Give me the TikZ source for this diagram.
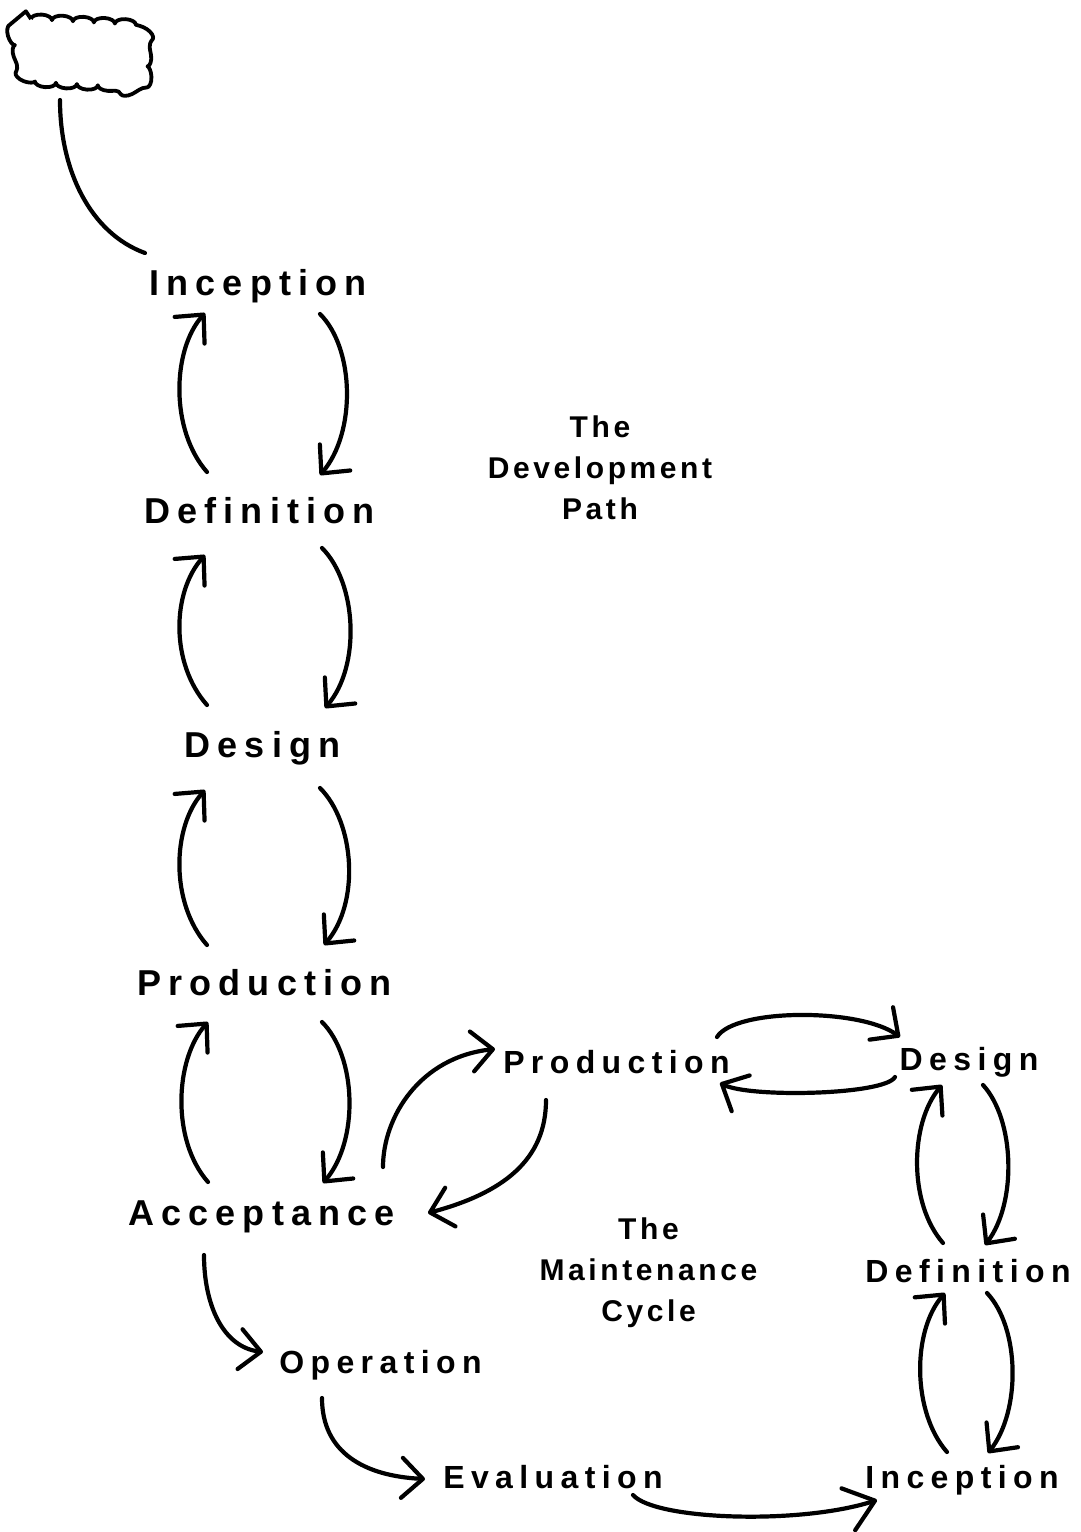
\documentclass[tikz,border=0pt]{standalone}
\usepackage{fontspec}
\setmainfont{Liberation Sans}
\newfontfamily\lab[LetterSpace=20]{Liberation Sans}
\newfontfamily\ttlfont[LetterSpace=12]{Liberation Sans}
\usetikzlibrary{arrows.meta,calc,decorations.pathmorphing}
\tikzset{
  lblL/.style={font=\lab\bfseries\fontsize{36}{40}\selectfont, inner sep=0pt, anchor=base},
  lblR/.style={font=\lab\bfseries\fontsize{32}{36}\selectfont, inner sep=0pt, anchor=base},
  ttl/.style={font=\ttlfont\bfseries\fontsize{30}{41}\selectfont, align=center, inner sep=0pt, anchor=base},
  conn/.style={line width=4.2pt, line cap=round, line join=round},
  arr/.style={conn, -{Straight Barb[length=21pt,width=40pt,round]}},
  arrbig/.style={conn, -{Straight Barb[length=28pt,width=44pt,round]}},
  cloudbox/.style={minimum width=145pt, minimum height=80pt, inner sep=0pt},
  cloudline/.style={line width=3.8pt, line join=round, decorate,
    decoration={bumps, segment length=42pt, amplitude=5pt}},
}
\begin{document}
\begin{tikzpicture}[x=1pt,y=-1pt]
\useasboundingbox[fill=white] (0,0) rectangle (1081,1532);
% development path
\node[lblL] (i1) at (258,295) {Inception};
\node[lblL] (d1) at (259.5,523) {Definition};
\node[lblL] (de1) at (262.5,757) {Design};
\node[lblL] (p1) at (264.5,995) {Production};
\node[lblL] (a1) at (261.5,1225) {Acceptance};
% maintenance
\node[lblR] (o) at (380.5,1373) {Operation};
\node[lblR] (e) at (553,1488) {Evaluation};
\node[lblR] (p2) at (616.5,1073) {Production};
\node[lblR] (de2) at (969,1070) {Design};
\node[lblR] (d2) at (968,1282) {Definition};
\node[lblR] (i2) at (962,1488) {Inception};
\node[ttl] (dp) at (600,519) {The\\Development\\Path};
\node[ttl] (mc) at (648.5,1321) {The\\Maintenance\\Cycle};
% cloud
\node[cloudbox] (cl) at (81,52) {};
\draw[cloudline] ($(cl.center)+(-50,-33)$) -- ($(cl.center)+(42,-28)$)
  .. controls ($(cl.center)+(60,-27)$) and ($(cl.center)+(63,-14)$) .. ($(cl.center)+(64,-4)$)
  -- ($(cl.center)+(65,16)$)
  .. controls ($(cl.center)+(67,32)$) and ($(cl.center)+(58,35)$) .. ($(cl.center)+(46,35)$)
  -- ($(cl.center)+(-38,30)$)
  .. controls ($(cl.center)+(-52,29)$) and ($(cl.center)+(-57,20)$) .. ($(cl.center)+(-60,10)$)
  -- ($(cl.center)+(-66,-10)$)
  .. controls ($(cl.center)+(-70,-26)$) and ($(cl.center)+(-64,-33)$) .. ($(cl.center)+(-50,-33)$);

% cloud to inception
\draw[conn] ($(cl.center)+(-21,48)$) .. controls ($(cl.center)+(-21,118)$) and ($(i1.base)+(-168,-62)$) .. ($(i1.base)+(-113,-42)$);

% left column up arrows
\draw[arr] ($(d1.base)+(-52.5,-51)$) .. controls ($(d1.base)+(-89.5,-93)$) and ($(i1.base)+(-86,55)$) .. ($(i1.base)+(-53,18)$);
\draw[arr] ($(de1.base)+(-55.5,-52)$) .. controls ($(de1.base)+(-92.5,-94)$) and ($(d1.base)+(-87.5,69)$) .. ($(d1.base)+(-54.5,32)$);
\draw[arr] ($(p1.base)+(-57.5,-50)$) .. controls ($(p1.base)+(-94.5,-92)$) and ($(de1.base)+(-90.5,70)$) .. ($(de1.base)+(-57.5,33)$);
\draw[arr] ($(a1.base)+(-53.5,-43)$) .. controls ($(a1.base)+(-90.5,-85)$) and ($(p1.base)+(-89.5,64)$) .. ($(p1.base)+(-56.5,27)$);
% left column down arrows
\draw[arr] ($(i1.base)+(62,19)$) .. controls ($(i1.base)+(97,54)$) and ($(d1.base)+(96.5,-90)$) .. ($(d1.base)+(60.5,-48)$);
\draw[arr] ($(d1.base)+(62.5,25)$) .. controls ($(d1.base)+(97.5,60)$) and ($(de1.base)+(98.5,-91)$) .. ($(de1.base)+(62.5,-49)$);
\draw[arr] ($(de1.base)+(57.5,31)$) .. controls ($(de1.base)+(92.5,66)$) and ($(p1.base)+(95.5,-92)$) .. ($(p1.base)+(59.5,-50)$);
\draw[arr] ($(p1.base)+(57.5,27)$) .. controls ($(p1.base)+(92.5,62)$) and ($(a1.base)+(97.5,-84)$) .. ($(a1.base)+(61.5,-42)$);

% right column
\draw[arr] ($(d2.base)+(-25,-39)$) .. controls ($(d2.base)+(-60,-79)$) and ($(de2.base)+(-59,53)$) .. ($(de2.base)+(-27,15)$);
\draw[arr] ($(de2.base)+(14,15)$) .. controls ($(de2.base)+(46,50)$) and ($(d2.base)+(49,-79)$) .. ($(d2.base)+(17,-37)$);
\draw[arr] ($(i2.base)+(-15,-36)$) .. controls ($(i2.base)+(-50,-76)$) and ($(d2.base)+(-56,49)$) .. ($(d2.base)+(-23,11)$);
\draw[arr] ($(d2.base)+(19,11)$) .. controls ($(d2.base)+(52,46)$) and ($(i2.base)+(59,-77)$) .. ($(i2.base)+(26,-35)$);

% acceptance -> operation -> evaluation -> inception
\draw[arr] ($(a1.base)+(-57.5,30)$) .. controls ($(a1.base)+(-57.5,80)$) and ($(o.base)+(-157.5,-26)$) .. ($(o.base)+(-117.5,-21)$);
\draw[arr] ($(o.base)+(-58.5,25)$) .. controls ($(o.base)+(-58.5,80)$) and ($(e.base)+(-188,-12)$) .. ($(e.base)+(-128,-9)$);
\draw[arrbig] ($(e.base)+(80,7)$) .. controls ($(e.base)+(102,32)$) and ($(i2.base)+(-162,37)$) .. ($(i2.base)+(-85,12)$);

% production <-> acceptance
\draw[arr] ($(p2.base)+(-70.5,27)$) .. controls ($(p2.base)+(-70.5,87)$) and ($(a1.base)+(241.5,-32)$) .. ($(a1.base)+(166.5,-12)$);
\draw[arr] ($(a1.base)+(121.5,-58)$) .. controls ($(a1.base)+(121.5,-108)$) and ($(p2.base)+(-196.5,-16)$) .. ($(p2.base)+(-121.5,-24)$);

% production <-> design
\draw[arr] ($(p2.base)+(100.5,-36)$) .. controls ($(p2.base)+(118.5,-65)$) and ($(de2.base)+(-109,-62)$) .. ($(de2.base)+(-69,-33)$);
\draw[arr] ($(de2.base)+(-74,7)$) .. controls ($(de2.base)+(-84,25)$) and ($(p2.base)+(133.5,25)$) .. ($(p2.base)+(103.5,10)$);
\end{tikzpicture}
\end{document}
